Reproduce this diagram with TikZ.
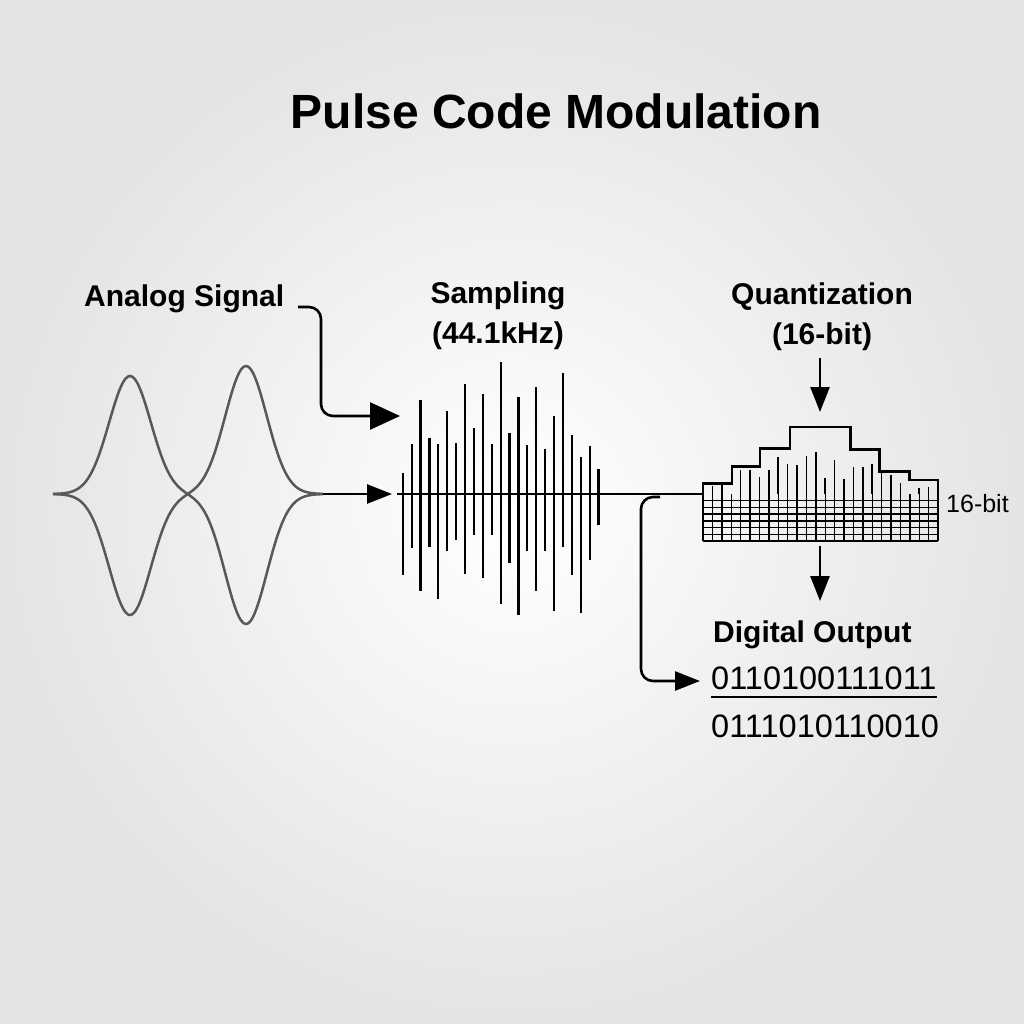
\documentclass[tikz,border=0pt]{standalone}
\usepackage{fontspec}
\setmainfont{Liberation Sans}
\usepackage{xcolor}
\usepackage{tikz}
\usetikzlibrary{positioning, arrows.meta}
\definecolor{wavegray}{RGB}{88, 88, 88}
\definecolor{bgedge}{RGB}{228, 228, 228}
\tikzset{
  headtext/.style={font=\bfseries\fontsize{30}{40}\selectfont, inner sep=0pt},
  bintext/.style={font=\fontsize{32.5}{38}\selectfont, inner sep=0pt, anchor=base west},
  conn/.style={line width=2.6pt, -{Triangle[length=25pt, width=19pt]}},
  bigconn/.style={line width=2.6pt, -{Triangle[length=30pt, width=27pt]}, rounded corners=12pt},
  stick/.style={line width=2.2pt},
  qstick/.style={line width=1.5pt},
  gridline/.style={line width=1.4pt},
  wave/.style={wavegray, line width=2.5pt, smooth, samples=120, domain=53:323},
}

\begin{document}
\begin{tikzpicture}[x=1pt, y=-1pt,
  declare function={bump(\d)=exp(-(\d/29.5)*(\d/29.5));}]
  % Background
  \shade[inner color=white, outer color=bgedge] (0,0) rectangle (1024,1024);
  \useasboundingbox (0,0) rectangle (1024,1024);
  % Title
  \node[font=\bfseries\fontsize{48}{58}\selectfont, inner sep=0pt, anchor=base] (title) at (556,129) {Pulse Code Modulation};
  % Labels
  \node[headtext, anchor=base west] (analog) at (84,306) {Analog Signal};
  \node[headtext, anchor=north, align=center] (sampling) at (498,282) {Sampling\\(44.1kHz)};
  \node[headtext, anchor=north, align=center] (quant) at (822,283) {Quantization\\(16-bit)};
  \node[font=\fontsize{25}{30}\selectfont, inner sep=0pt, anchor=base west] (bits) at (946,512) {16-bit};
  \node[headtext, anchor=base west] (digout) at (713,642) {Digital Output};
  \node[bintext] (bin1) at (711,689) {0110100111011};
  \node[bintext] (bin2) at (711,737) {0111010110010};
  \draw[line width=2.2pt] ([yshift=-8pt]bin1.base west) -- ([yshift=-8pt]bin1.base east);
  % Analog wave
  \draw[wave] plot ({\x},{494-118*bump(\x-130)+130*bump(\x-246)});
  \draw[wave] plot ({\x},{494+121*bump(\x-130)-128*bump(\x-246)});
  % Connectors into sampling
  \coordinate (wend) at (323,494);
  \coordinate (sampin) at (392,494);
  \coordinate (atap) at (298,307);
  \coordinate (sampup) at (400,416);
  \draw[conn] (wend) -- (sampin);
  \draw[bigconn] (atap) -- ++(23,0) |- (sampup);
  % Sampling pulses
  \coordinate (sline) at (397,494);
  \coordinate (qleft) at (703,494);
  \draw[line width=2.4pt] (sline) -- (qleft);
  \foreach \i/\t/\b in {0/20.7/81.3, 1/49.7/53.7, 2/94/97, 3/56.3/53, 4/49.7/105, 5/82.7/56.7,
      6/50.7/46.3, 7/109.7/80.3, 8/65.7/41.3, 9/100/84, 10/49.7/40.7, 11/132/109.7,
      12/61.3/68.7, 13/97.3/121.3, 14/48.7/57.3, 15/107.3/97.3, 16/45.3/56.7, 17/78/117,
      18/121.3/52.7, 19/59/81.3, 20/37/119, 21/47.7/66, 22/24.7/30.7}
    \draw[stick] ({402.7+8.9*\i},{494-\t}) -- ({402.7+8.9*\i},{494+\b});
  % Quantization grid
  \foreach \c in {0,...,25}
    \draw[gridline] ({703+9.4*\c},494) -- ({703+9.4*\c},541);
  \foreach \r in {1,...,7}
    \draw[gridline] (703,{494+6.714*\r}) -- (938,{494+6.714*\r});
  \foreach \c/\t in {1/486, 2/485, 4/470, 5/470, 6/477, 7/470, 8/457, 9/464, 10/465, 11/456, 12/452,
      13/478, 14/460, 15/479, 16/467, 17/467, 18/464, 19/473, 20/475, 21/483, 23/488, 24/487}
    \draw[qstick] ({703+9.4*\c},494) -- ({703+9.4*\c},\t);
  \draw[line width=2.9pt] (qleft) -- (703,483.3) -- (732,483.3) -- (732,466.7) -- (760,466.7)
    -- (760,448.5) -- (790,448.5) -- (790,427) -- (850.5,427) -- (850.5,449.5) -- (879.5,449.5)
    -- (879.5,471.5) -- (909.5,471.5) -- (909.5,480) -- (938,480) -- (938,494);
  % Arrows around quantization
  \coordinate (qin) at (820,358);
  \coordinate (qtop) at (820,412);
  \coordinate (qbot) at (820,546);
  \coordinate (dout) at (820,601);
  \draw[conn] (qin) -- (qtop);
  \draw[conn] (qbot) -- (dout);
  % Tap to digital output
  \coordinate (stap) at (660,497);
  \coordinate (binin) at (700,681);
  \draw[conn, rounded corners=12pt] (stap) -- ++(-19,0) |- (binin);
\end{tikzpicture}
\end{document}
